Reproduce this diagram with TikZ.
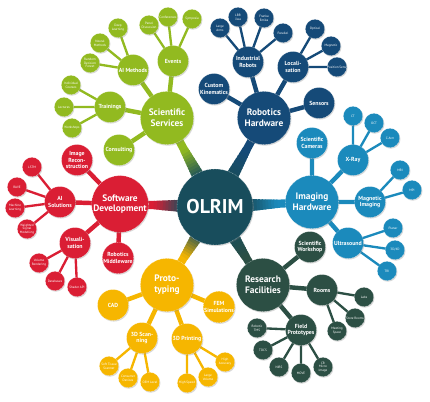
\documentclass[tikz,border=0pt]{standalone}
\usepackage{fontspec}
\setsansfont{PT Sans}
\usetikzlibrary{shadows,backgrounds,calc}

\definecolor{olrimc}{RGB}{24,77,92}
\definecolor{scic}{RGB}{146,186,32}
\definecolor{robc}{RGB}{21,74,120}
\definecolor{imgc}{RGB}{27,138,188}
\definecolor{resc}{RGB}{44,79,68}
\definecolor{protoc}{RGB}{246,182,0}
\definecolor{softc}{RGB}{218,30,52}

% tube from the centre to a main branch, fading from the centre colour
\newcommand{\hubtube}[2]{%
  \draw[line width=7pt, draw=#2] (olrim.center) -- (#1.center);
  \foreach \i in {0,...,9} {
    \pgfmathtruncatemacro{\mix}{10*\i+5}
    \pgfmathsetmacro{\ta}{0.34+0.03*\i}
    \pgfmathsetmacro{\tb}{0.34+0.03*\i+0.035}
    \pgfmathsetmacro{\lw}{10.5-0.35*\i}
    \draw[line width=\lw pt, draw=#2!\mix!olrimc]
      ($(olrim.center)!\ta!(#1.center)$) -- ($(olrim.center)!\tb!(#1.center)$);
  }
}

\begin{document}
\begin{tikzpicture}[x=0.03cm, y=-0.03cm,
      bubble/.style={circle, draw=white, draw opacity=0.6, line width=0.35pt,
                     dash pattern=on 0.7pt off 0.7pt, text=white, align=center,
                     inner sep=0pt,
                     drop shadow={shadow xshift=0.7pt, shadow yshift=-0.9pt, opacity=0.3}},
      hub/.style={bubble, fill=#1, minimum size=2.28cm,
                  font=\sffamily\bfseries\fontsize{17}{20}\selectfont},
      main/.style={bubble, fill=#1, minimum size=1.6cm,
                   font=\sffamily\bfseries\fontsize{8}{9.2}\selectfont},
      sub/.style={bubble, fill=#1, minimum size=0.93cm,
                  font=\sffamily\bfseries\fontsize{5}{5.8}\selectfont},
      leaf/.style={bubble, fill=#1, minimum size=0.58cm,
                   font=\sffamily\fontsize{2.8}{3.2}\selectfont},
      sublink/.style={line width=3.8pt, draw=#1},
      leaflink/.style={line width=2pt, draw=#1}
    ]
      \useasboundingbox (0,0) rectangle (430,401);

      % Centre
      \node[hub=olrimc] (olrim) at (215,207) {OLRIM};

      % Scientific Services
      \node[main=scic] (sci) at (167,118) {Scientific\\Services};
      \node[sub=scic] (events) at (173,61) {Events};
      \node[leaf=scic] (panel) at (149,25) {Panel\\Discussion};
      \node[leaf=scic] (conf) at (168,17) {Conferences};
      \node[leaf=scic] (symp) at (192,19) {Symposia};
      \node[sub=scic] (aimeth) at (133,70) {AI Methods};
      \node[leaf=scic] (deep) at (118,28) {Deep\\Learning};
      \node[leaf=scic] (neural) at (100,43) {Neural\\Methods};
      \node[leaf=scic] (forest) at (90,63) {Random\\Decision\\Forest};
      \node[sub=scic] (train) at (110,107) {Trainings};
      \node[leaf=scic] (course) at (71,85) {Individual\\Courses};
      \node[leaf=scic] (lect) at (64,107) {Lectures};
      \node[leaf=scic] (work) at (72,128) {Workshops};
      \node[sub=scic] (consult) at (119,150) {Consulting};

      % Robotics Hardware
      \node[main=robc] (rob) at (264,118) {Robotics\\Hardware};
      \node[sub=robc] (indrob) at (248,62) {Industrial\\Robots};
      \node[leaf=robc] (large) at (220,28) {Large\\Arms};
      \node[leaf=robc] (lbr) at (238,17) {LBR\\iiwa};
      \node[leaf=robc] (franka) at (264,18) {Franka\\Emika};
      \node[leaf=robc] (parallel) at (283,33) {Parallel};
      \node[sub=robc] (local) at (293,67) {Locali-\\sation};
      \node[leaf=robc] (optical) at (315,29) {Optical};
      \node[leaf=robc] (magnetic) at (331,46) {Magnetic};
      \node[leaf=robc] (possens) at (337,67) {Position Sens.};
      \node[sub=robc] (custom) at (214,89) {Custom\\Kinematics};
      \node[sub=robc] (sensors) at (319,103) {Sensors};

      % Imaging Hardware
      \node[main=imgc] (img) at (312,202) {Imaging\\Hardware};
      \node[sub=imgc] (cams) at (312,143) {Scientific\\Cameras};
      \node[sub=imgc] (xray) at (353,160) {X-Ray};
      \node[leaf=imgc] (ct) at (353,116) {CT};
      \node[leaf=imgc] (oct) at (374,123) {OCT};
      \node[leaf=imgc] (carm) at (390,138) {C-Arm};
      \node[sub=imgc] (magn) at (370,202) {Magnetic\\Imaging};
      \node[leaf=imgc] (mri) at (400,170) {MRI};
      \node[leaf=imgc] (mpi) at (412,190) {MPI};
      \node[sub=imgc] (us) at (348,243) {Ultrasound};
      \node[leaf=imgc] (planar) at (393,228) {Planar};
      \node[leaf=imgc] (usdd) at (395,250) {3D/4D};
      \node[leaf=imgc] (tri) at (387,271) {TRI};

      % Research Facilities
      \node[main=resc] (res) at (263,285) {Research\\Facilities};
      \node[sub=resc] (wshop) at (310,247) {Scientific\\Workshop};
      \node[sub=resc] (rooms) at (322,290) {Rooms};
      \node[leaf=resc] (labs) at (364,297) {Labs};
      \node[leaf=resc] (store) at (355,318) {Store Rooms};
      \node[leaf=resc] (meet) at (337,331) {Meeting\\Space};
      \node[sub=resc] (field) at (301,330) {Field\\Prototypes};
      \node[leaf=resc] (rtms) at (257,328) {Robotic\\TMS};
      \node[leaf=resc] (tdcs) at (263,350) {TDCS};
      \node[leaf=resc] (nirs) at (279,367) {NIRS};
      \node[leaf=resc] (move) at (301,373) {MOVE};
      \node[leaf=resc] (micro) at (323,367) {CR\\Micro\\Image};

      % Prototyping
      \node[main=protoc] (proto) at (167,285) {Proto-\\typing};
      \node[sub=protoc] (cad) at (113,305) {CAD};
      \node[sub=protoc] (fem) at (219,307) {FEM\\Simulations};
      \node[sub=protoc] (scan) at (142,338) {3D Scan-\\ning};
      \node[leaf=protoc] (tissue) at (109,366) {Soft Tissue\\Scanner};
      \node[leaf=protoc] (consumer) at (128,378) {Consumer\\Devices};
      \node[leaf=protoc] (oem) at (150,382) {OEM Level};
      \node[sub=protoc] (print) at (187,339) {3D Printing};
      \node[leaf=protoc] (speed) at (187,383) {High Speed};
      \node[leaf=protoc] (volume) at (208,377) {Large\\Volume};
      \node[leaf=protoc] (accur) at (225,362) {High\\Accuracy};

      % Software Development
      \node[main=softc] (soft) at (120,204) {Software\\Development};
      \node[sub=softc] (recon) at (77,160) {Image\\Recon-\\struction};
      \node[sub=softc] (aisol) at (60,202) {AI\\Solutions};
      \node[leaf=softc] (lstm) at (32,167) {LSTM};
      \node[leaf=softc] (rave) at (17,187) {RAVE};
      \node[leaf=softc] (ml) at (15,208) {Machine\\Learning};
      \node[leaf=softc] (wsm) at (27,229) {Weighted\\Signal\\Modelling};
      \node[sub=softc] (vis) at (75,243) {Visuali-\\sation};
      \node[leaf=softc] (volren) at (39,263) {Volume\\Rendering};
      \node[leaf=softc] (dbs) at (55,281) {Databases};
      \node[leaf=softc] (shader) at (77,287) {Shader API};
      \node[sub=softc] (middle) at (118,258) {Robotics\\Middleware};

      % Connectors
      \begin{scope}[on background layer]
        \hubtube{sci}{scic}
        \hubtube{rob}{robc}
        \hubtube{img}{imgc}
        \hubtube{res}{resc}
        \hubtube{proto}{protoc}
        \hubtube{soft}{softc}

        \draw[sublink=scic] (sci.center) -- (events.center)
          (sci.center) -- (aimeth.center) (sci.center) -- (train.center)
          (sci.center) -- (consult.center);
        \draw[leaflink=scic] (events.center) -- (panel.center)
          (events.center) -- (conf.center) (events.center) -- (symp.center)
          (aimeth.center) -- (deep.center) (aimeth.center) -- (neural.center)
          (aimeth.center) -- (forest.center) (train.center) -- (course.center)
          (train.center) -- (lect.center) (train.center) -- (work.center);

        \draw[sublink=robc] (rob.center) -- (indrob.center)
          (rob.center) -- (local.center) (rob.center) -- (custom.center)
          (rob.center) -- (sensors.center);
        \draw[leaflink=robc] (indrob.center) -- (large.center)
          (indrob.center) -- (lbr.center) (indrob.center) -- (franka.center)
          (indrob.center) -- (parallel.center) (local.center) -- (optical.center)
          (local.center) -- (magnetic.center) (local.center) -- (possens.center);

        \draw[sublink=imgc] (img.center) -- (cams.center)
          (img.center) -- (xray.center) (img.center) -- (magn.center)
          (img.center) -- (us.center);
        \draw[leaflink=imgc] (xray.center) -- (ct.center)
          (xray.center) -- (oct.center) (xray.center) -- (carm.center)
          (magn.center) -- (mri.center) (magn.center) -- (mpi.center)
          (us.center) -- (planar.center) (us.center) -- (usdd.center)
          (us.center) -- (tri.center);

        \draw[sublink=resc] (res.center) -- (wshop.center)
          (res.center) -- (rooms.center) (res.center) -- (field.center);
        \draw[leaflink=resc] (rooms.center) -- (labs.center)
          (rooms.center) -- (store.center) (rooms.center) -- (meet.center)
          (field.center) -- (rtms.center) (field.center) -- (tdcs.center)
          (field.center) -- (nirs.center) (field.center) -- (move.center)
          (field.center) -- (micro.center);

        \draw[sublink=protoc] (proto.center) -- (cad.center)
          (proto.center) -- (fem.center) (proto.center) -- (scan.center)
          (proto.center) -- (print.center);
        \draw[leaflink=protoc] (scan.center) -- (tissue.center)
          (scan.center) -- (consumer.center) (scan.center) -- (oem.center)
          (print.center) -- (speed.center) (print.center) -- (volume.center)
          (print.center) -- (accur.center);

        \draw[sublink=softc] (soft.center) -- (recon.center)
          (soft.center) -- (aisol.center) (soft.center) -- (vis.center)
          (soft.center) -- (middle.center);
        \draw[leaflink=softc] (aisol.center) -- (lstm.center)
          (aisol.center) -- (rave.center) (aisol.center) -- (ml.center)
          (aisol.center) -- (wsm.center) (vis.center) -- (volren.center)
          (vis.center) -- (dbs.center) (vis.center) -- (shader.center);
      \end{scope}
    \end{tikzpicture}
\end{document}
